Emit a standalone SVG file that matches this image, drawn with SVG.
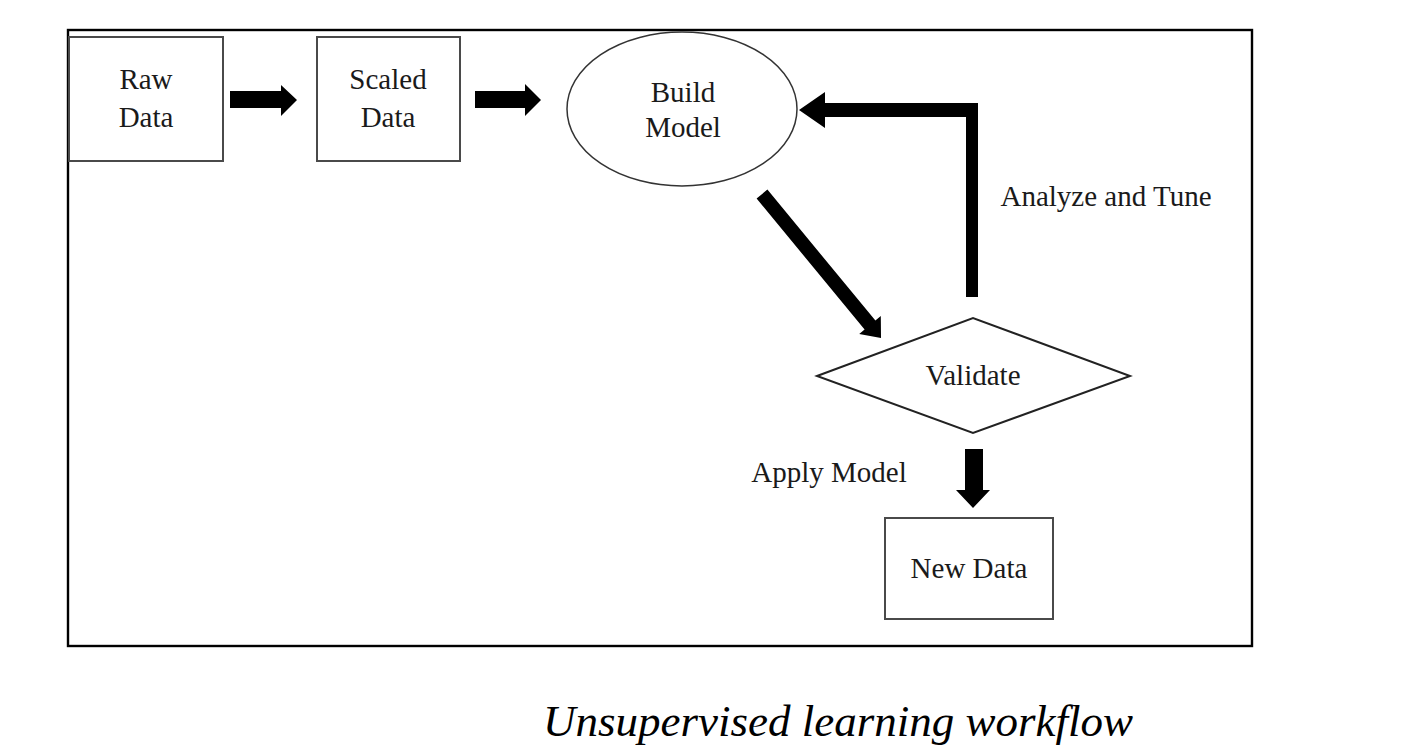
<svg xmlns="http://www.w3.org/2000/svg" width="1424" height="746" viewBox="0 0 1424 746">
<style>
.lbl{font-family:"Liberation Serif","Times New Roman",serif;font-size:29px;fill:#1a1a1a;text-anchor:middle}
.box{fill:#fff;stroke:#4a4a4a;stroke-width:2}
.arr{fill:#000;stroke:none}
</style>
<rect width="1424" height="746" fill="#fff"/>
<rect x="68" y="30" width="1184" height="616" fill="none" stroke="#000" stroke-width="2.4"/>
<g id="connectors">
<polygon class="arr" points="230,91 281,91 281,85 297,100 281,116 281,108 230,108"/>
<polygon class="arr" points="475,91 525,91 525,84 541,100 525,116 525,108 475,108"/>
<polygon class="arr" points="767.4,189.6 875.4,320.6 880.8,316.1 881,338 859.2,333.9 864.6,329.5 756.6,198.5"/>
<polygon class="arr" points="966,297 978,297 978,103 825,103 825,92 799,110 825,128 825,117 966,117"/>
<polygon class="arr" points="965,449 983,449 983,490 990,490 973,508 956,490 965,490"/>
</g>
<g id="raw-data">
<rect class="box" x="69" y="37" width="154" height="124"/>
<text class="lbl" x="146" y="89">Raw</text>
<text class="lbl" x="146" y="127">Data</text>
</g>
<g id="scaled-data">
<rect class="box" x="317" y="37" width="143" height="124"/>
<text class="lbl" x="388" y="89">Scaled</text>
<text class="lbl" x="388" y="127">Data</text>
</g>
<g id="build-model">
<ellipse cx="682" cy="109" rx="115" ry="77" fill="#fff" stroke="#333" stroke-width="1.5"/>
<text class="lbl" x="683" y="102">Build</text>
<text class="lbl" x="683" y="137">Model</text>
</g>
<g id="validate">
<polygon points="817,376 973,318 1130,376 973,433" fill="#fff" stroke="#222" stroke-width="2"/>
<text class="lbl" x="973" y="385">Validate</text>
</g>
<g id="new-data">
<rect class="box" x="885" y="518" width="168" height="101"/>
<text class="lbl" x="969" y="578">New Data</text>
</g>
<g id="labels">
<text class="lbl" x="1106" y="206">Analyze and Tune</text>
<text class="lbl" x="829" y="482">Apply Model</text>
</g>
<text x="838" y="736" font-family="'Liberation Serif','Times New Roman',serif" font-style="italic" font-size="45" fill="#000" text-anchor="middle">Unsupervised learning workflow</text>
</svg>
